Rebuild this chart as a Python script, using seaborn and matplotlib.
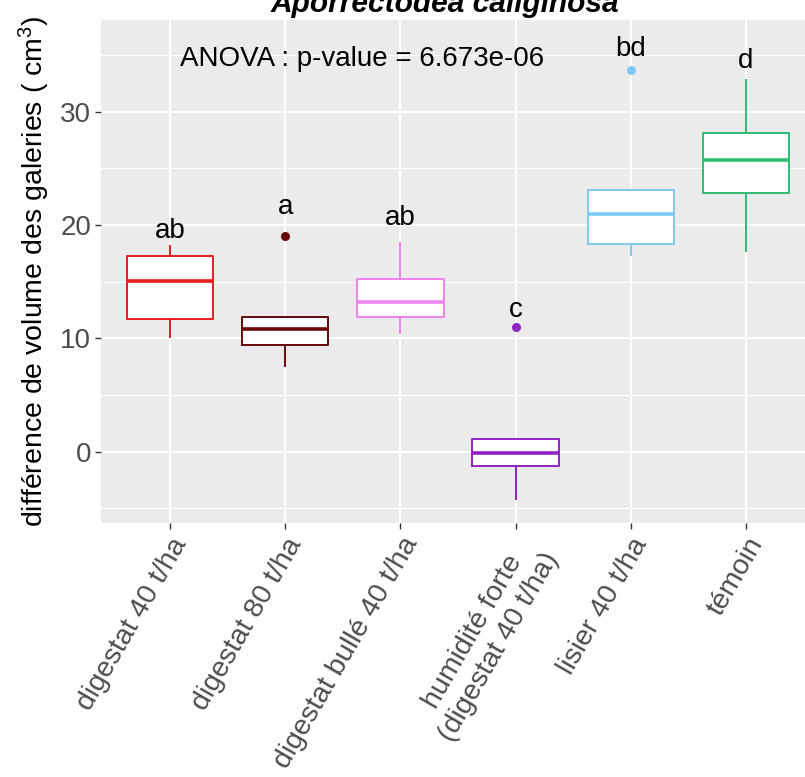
import numpy as np
import pandas as pd
import matplotlib
matplotlib.use("Agg")
import matplotlib.pyplot as plt
from matplotlib.ticker import FixedLocator
import seaborn as sns

# ---------------- data ----------------
categories = ["digestat 40 t/ha", "digestat 80 t/ha", "digestat bullé 40 t/ha",
              "humidité forte\n(digestat 40 t/ha)", "lisier 40 t/ha", "témoin"]
whisker_low = [10.0, 7.5, 10.4, -4.3, 17.3, 17.6]
q1 = [11.7, 9.4, 11.9, -1.3, 18.3, 22.8]
median = [15.1, 10.8, 13.2, -0.1, 21.0, 25.7]
q3 = [17.3, 11.9, 15.2, 1.15, 23.1, 28.1]
whisker_high = [18.2, 11.9, 18.5, 1.15, 23.1, 32.9]
outlier_groups = ["digestat 80 t/ha", "humidité forte\n(digestat 40 t/ha)", "lisier 40 t/ha"]
outlier_values = [19.0, 11.0, 33.7]
letters = ["ab", "a", "ab", "c", "bd", "d"]
letter_y = [18.9, 21.0, 20.0, 11.9, 34.9, 33.9]
colors = ["#E81C1C", "#660808", "#EE82EE", "#9221C4", "#7CCAF4", "#2DBD70"]
yticks = [0, 10, 20, 30]
yminor = [-5, 5, 15, 25, 35]
anova_text = "ANOVA : p-value = 6.673e-06"
title = "Aporrectodea caliginosa"
ylabel = "différence de volume des galeries ( $\\mathregular{cm^{3}}$)"

# long table built from the summary arrays (5 values -> exact quartiles)
rows = []
for g, a, b, c, d, e in zip(categories, whisker_low, q1, median, q3, whisker_high):
    for v in (a, b, c, d, e):
        rows.append({"group": g, "value": v})
df = pd.DataFrame(rows)
out_df = pd.DataFrame({"group": outlier_groups, "value": outlier_values})

# ---------------- style ----------------
sns.set_theme(style="darkgrid")
plt.rcParams["font.family"] = ["Liberation Sans", "DejaVu Sans"]
plt.rcParams["mathtext.fontset"] = "custom"
plt.rcParams["mathtext.rm"] = "Liberation Sans"

fig = plt.figure(figsize=(8.05, 7.77), dpi=100)
fig.patch.set_facecolor("white")
W, H = 805, 777
ax = fig.add_axes([101 / W, 1 - 523.3 / H, 714 / W, (523.3 - 20) / H])
ax.set_facecolor("#EBEBEB")

# white filled boxes underneath
sns.boxplot(data=df, x="group", y="value", order=categories, color="white",
            linewidth=0, showcaps=False, width=0.75, fliersize=0,
            saturation=1, ax=ax)
# coloured outlines
sns.boxplot(data=df, x="group", y="value", hue="group", order=categories,
            hue_order=categories, palette=colors, fill=False, linewidth=1.4,
            showcaps=False, width=0.75, fliersize=0, saturation=1,
            medianprops={"linewidth": 2.6}, legend=False, ax=ax)
# outliers
sns.stripplot(data=out_df, x="group", y="value", hue="group", order=categories,
              hue_order=categories, palette=colors, jitter=False, size=6.5,
              linewidth=0, legend=False, ax=ax, zorder=5)

# letters
for i, (lab, yv) in enumerate(zip(letters, letter_y)):
    ax.text(i, yv, lab, ha="center", va="baseline", fontsize=20, color="black")

ax.text(1.67, 34.0, anova_text, ha="center", va="baseline", fontsize=20, color="black")

# axes
ax.set_xlim(-0.6, 5.6)
ax.set_ylim(-6.32, 38.1)
ax.set_yticks(yticks)
ax.yaxis.set_minor_locator(FixedLocator(yminor))
ax.set_axisbelow(True)
ax.grid(which="major", axis="both", color="white", linewidth=1.5)
ax.grid(which="minor", axis="y", color="white", linewidth=0.75)
for s in ax.spines.values():
    s.set_visible(False)
ax.tick_params(axis="both", which="major", length=4, width=1.0, color="#333333",
               labelcolor="#4D4D4D", labelsize=20, pad=3, bottom=True, left=True)
ax.tick_params(axis="y", which="minor", length=0)
ax.set_xlabel("")
ax.set_ylabel(ylabel, fontsize=20.5, color="black", labelpad=6)
for lab in ax.get_xticklabels():
    lab.set_rotation(60)
    lab.set_ha("right")
    lab.set_va("top")
    lab.set_rotation_mode("anchor")
    lab.set_multialignment("center")
    lab.set_fontsize(20.5)

fig.text(445 / W, 1 - 12 / H, title, ha="center", va="baseline", fontsize=21.5,
         weight="bold", style="italic", color="black")

fig.savefig("out.png", dpi=100)
